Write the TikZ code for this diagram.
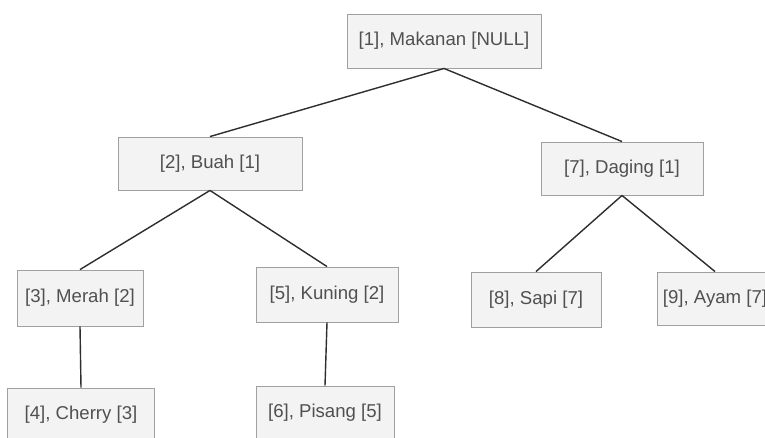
\documentclass[tikz,border=0pt]{standalone}
\usepackage{fontspec}
\setmainfont{Liberation Sans}
\definecolor{boxfill}{HTML}{F3F3F3}
\definecolor{boxline}{HTML}{A0A0A0}
\definecolor{boxtext}{HTML}{505050}
\definecolor{edgeline}{HTML}{2E2E2E}
\begin{document}
\begin{tikzpicture}[x=1pt,y=-1pt,
  item/.style={draw=boxline, fill=boxfill, line width=0.9pt, text=boxtext,
    font=\fontsize{18.6}{21}\selectfont, inner sep=0pt, align=center},
  link/.style={draw=edgeline, line width=1.4pt}]
  \useasboundingbox[fill=white] (0,0) rectangle (765,438);
  \begin{scope}
  \clip (0,0) rectangle (765,438);
  % level 0
  \node[item, minimum width=194pt, minimum height=54pt] (n1) at (444,41) {[1], Makanan [NULL]};
  % level 1
  \node[item, minimum width=184pt, minimum height=53pt] (n2) at (210,163.5) {[2], Buah [1]};
  \node[item, minimum width=162pt, minimum height=53pt] (n7) at (622,168.5) {[7], Daging [1]};
  % level 2
  \node[item, minimum width=126pt, minimum height=56pt] (n3) at (80,298) {[3], Merah [2]};
  \node[item, minimum width=142pt, minimum height=55pt] (n5) at (327,294.5) {[5], Kuning [2]};
  \node[item, minimum width=130pt, minimum height=55pt] (n8) at (536,299.5) {[8], Sapi [7]};
  \node[item, minimum width=116pt, minimum height=53pt] (n9) at (715,298.5) {[9], Ayam [7]};
  % level 3
  \node[item, minimum width=147pt, minimum height=54pt] (n4) at (81,415) {[4], Cherry [3]};
  \node[item, minimum width=138pt, minimum height=54pt] (n6) at (325,413) {[6], Pisang [5]};
  % parent-child links
  \draw[link] (n1.south) -- (n2.north);
  \draw[link] (n1.south) -- (n7.north);
  \draw[link] (n2.south) -- (n3.north);
  \draw[link] (n2.south) -- (n5.north);
  \draw[link] (n7.south) -- (n8.north);
  \draw[link] (n7.south) -- (n9.north);
  \draw[link] (n3.south) -- (n4.north);
  \draw[link] (n5.south) -- (n6.north);
  \end{scope}
\end{tikzpicture}
\end{document}
